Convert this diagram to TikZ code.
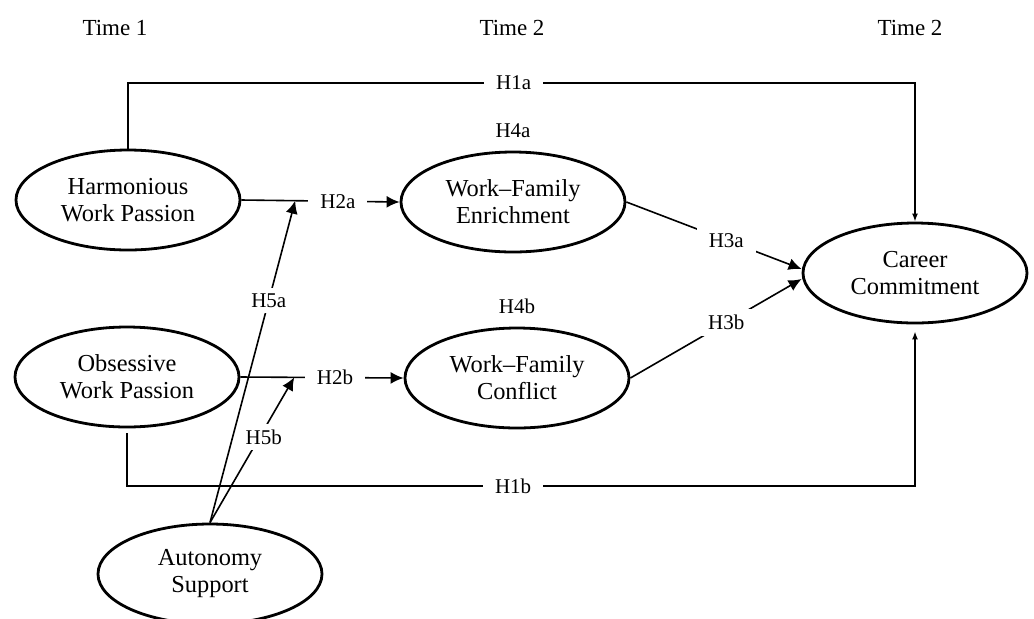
\documentclass[tikz,border=0pt]{standalone}
\usepackage{fontspec}
\setmainfont{Liberation Serif}
\usetikzlibrary{shapes.geometric,arrows.meta,positioning}
\tikzset{
  var/.style={ellipse,draw,line width=1.4pt,minimum width=112pt,minimum height=50pt,
    inner sep=0pt,align=center,font=\fontsize{12.2}{13.5}\selectfont},
  hyp/.style={fill=white,inner xsep=6pt,inner ysep=3pt,font=\fontsize{10.5}{12}\selectfont},
  wave/.style={font=\fontsize{11.5}{13.5}\selectfont}
}
\begin{document}
\begin{tikzpicture}[x=0.5pt,y=-0.5pt,line width=0.8pt,>={Latex[length=6.5pt,width=6pt]}]
\useasboundingbox (0,0) rectangle (1034,618);
% waves
\node[wave] at (115,28) {Time 1};
\node[wave] at (512,28) {Time 2};
\node[wave] at (910,28) {Time 2};
% constructs
\node[var] (hwp) at (128,200) {Harmonious\\Work Passion};
\node[var] (owp) at (127,377) {Obsessive\\Work Passion};
\node[var] (aut) at (210,574) {Autonomy\\Support};
\node[var] (wfe) at (513,202) {Work--Family\\Enrichment};
\node[var] (wfc) at (517,378) {Work--Family\\Conflict};
\node[var] (cc) at (915,273) {Career\\Commitment};
\node[hyp,above=3pt of wfe] (h4a) {H4a};
\node[hyp,above=3pt of wfc] (h4b) {H4b};
% direct paths
\coordinate (t1) at (128,83);
\coordinate (t2) at (915,83);
\coordinate (b1) at (127,486);
\coordinate (b2) at (915,486);
\draw[-{Latex[length=4pt,width=3pt]}] (hwp.north)--(t1)--node[hyp,pos=0.49]{H1a}(t2)--(cc.north);
\draw[-{Latex[length=4pt,width=3pt]},shorten <=2.5pt,shorten >=3.5pt] (owp.south)--(b1)--node[hyp,pos=0.49]{H1b}(b2)--(cc.south);
% mediated paths
\draw[->] (hwp.east)--coordinate[pos=0.34](m2a)node[hyp,pos=0.61]{H2a}(wfe.west);
\draw[->] (owp.east)--coordinate[pos=0.33](m2b)node[hyp,pos=0.58]{H2b}(wfc.west);
\draw[->] (wfe.east)--node[hyp,pos=0.57]{H3a}([yshift=2pt]cc.west);
\draw[->] (wfc.east)--node[hyp,pos=0.56]{H3b}([yshift=-3pt]cc.west);
% moderation
\draw[->] (aut.north)--node[hyp,pos=0.59,xshift=2pt]{H5b}(m2b);
\draw[->] (aut.north)--node[hyp,pos=0.69]{H5a}(m2a);

\end{tikzpicture}
\end{document}
